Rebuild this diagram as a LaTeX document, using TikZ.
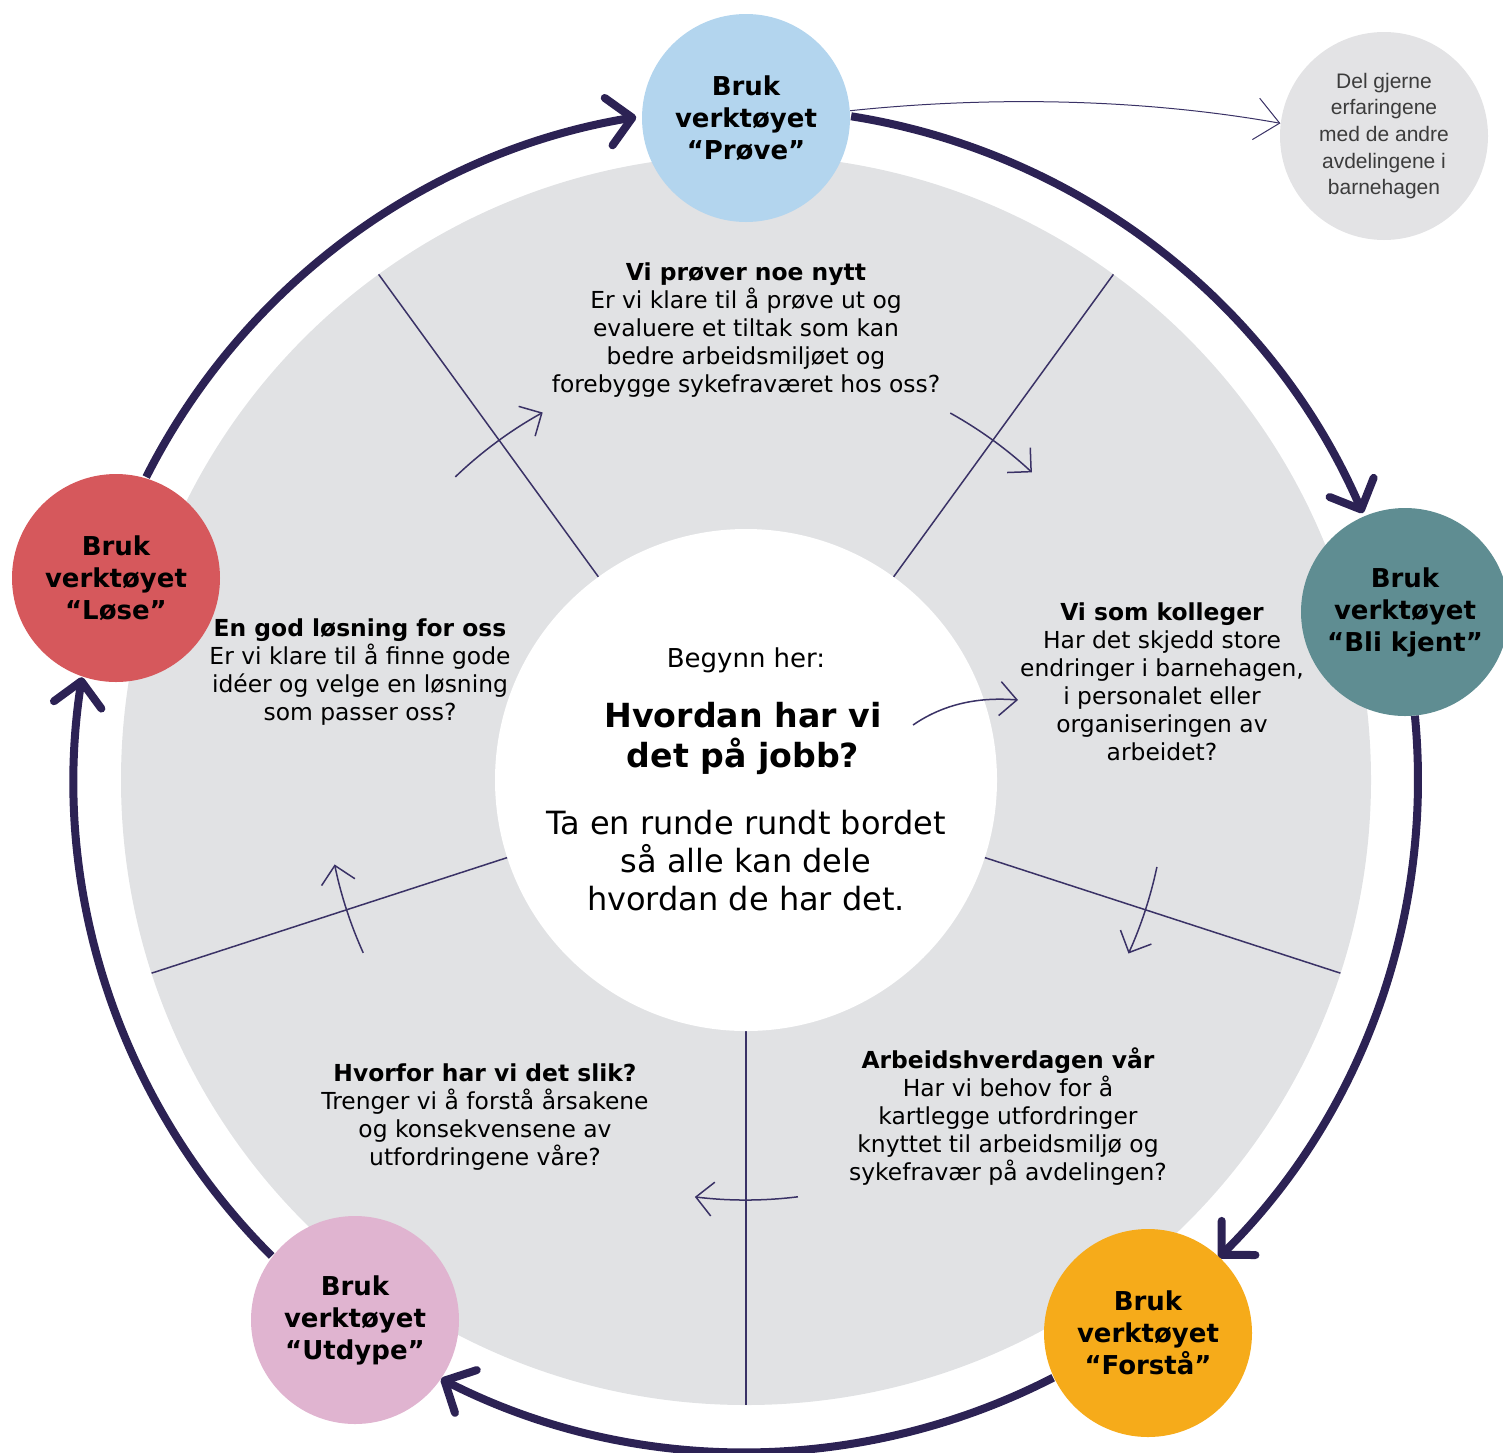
\documentclass[tikz,border=0pt]{standalone}
\usepackage{fontspec}
\setmainfont{DejaVu Sans}
\newfontfamily\helv{Liberation Sans}
\usetikzlibrary{arrows.meta}
\definecolor{ringc}{RGB}{44,34,84}
\definecolor{thinc}{RGB}{58,50,102}
\definecolor{greyc}{RGB}{225,226,228}
\definecolor{blueC}{RGB}{179,213,238}
\definecolor{tealC}{RGB}{95,141,146}
\definecolor{orangeC}{RGB}{246,171,26}
\definecolor{pinkC}{RGB}{224,180,208}
\definecolor{redC}{RGB}{214,88,92}
\definecolor{lgreyC}{RGB}{227,227,229}
\definecolor{dtext}{RGB}{60,60,60}
\begin{document}
\begin{tikzpicture}[x=0.5pt,y=-0.5pt,
  tool/.style={circle, minimum size=104pt, inner sep=0pt, align=center,
    font=\fontsize{13}{16}\selectfont\bfseries},
  body/.style={align=center, inner sep=0pt, font=\fontsize{11.7}{14}\selectfont},
  ring/.style={line width=4pt, color=ringc, -{Straight Barb[length=12pt,width=24pt,round]}},
  thinarrow/.style={line width=0.75pt, color=thinc, -{Straight Barb[length=8.5pt,width=17pt]}},
  delarrow/.style={line width=0.5pt, color=thinc, -{Straight Barb[length=12pt,width=21pt]}},
  divider/.style={line width=0.75pt, color=thinc}]
\useasboundingbox (0,0) rectangle (1503,1452);
\coordinate (c) at (746,780);
% big grey disc
\fill[greyc] (c) circle[radius=625];
% dividers
\foreach \a in {18,90,162,234,306}
  \draw[divider, shift={(746,780)}] (\a:250) -- (\a:625);
% white centre
\node[circle, fill=white, minimum size=251pt, inner sep=0pt] (center) at (c) {};
% thin arrows (arcs around centre)
\draw[thinarrow] (c) ++(226.2:420) arc[start angle=226.2, end angle=241.05, radius=420];
\draw[thinarrow] (c) ++(299.1:420) arc[start angle=299.1, end angle=312.9, radius=420];
\draw[thinarrow] (c) ++(11.95:420) arc[start angle=11.95, end angle=24.4, radius=420];
\draw[thinarrow] (c) ++(82.9:420) arc[start angle=82.9, end angle=97, radius=420];
\draw[thinarrow] (c) ++(155.7:420) arc[start angle=155.7, end angle=168.4, radius=420];
\coordinate (rs) at (913,725);
\coordinate (re) at (1018,700);
\draw[thinarrow] (rs) .. controls (945,703) and (980,697) .. (re);
% centre texts
\node[inner sep=0pt, font=\fontsize{13}{16}\selectfont] (begynn) at (746,660) {Begynn her:};
\node[align=center, inner sep=0pt, font=\fontsize{16.6}{20}\selectfont\bfseries] (hvordan) at (743,738) {Hvordan har vi\\det på jobb?};
\node[align=center, inner sep=0pt, font=\fontsize{16}{19}\selectfont] (ta) at (746,861) {Ta en runde rundt bordet\\så alle kan dele\\hvordan de har det.};
% segment texts
\node[body] (t1) at (746,330) {\textbf{Vi prøver noe nytt}\\Er vi klare til å prøve ut og\\evaluere et tiltak som kan\\bedre arbeidsmiljøet og\\forebygge sykefraværet hos oss?};
\node[body] (t2) at (1162,682) {\textbf{Vi som kolleger}\\Har det skjedd store\\endringer i barnehagen,\\i personalet eller\\organiseringen av\\arbeidet?};
\node[body] (t3) at (1008,1117) {\textbf{Arbeidshverdagen vår}\\Har vi behov for å\\kartlegge utfordringer\\knyttet til arbeidsmiljø og\\sykefravær på avdelingen?};
\node[body] (t4) at (485,1117) {\textbf{Hvorfor har vi det slik?}\\Trenger vi å forstå årsakene\\og konsekvensene av\\utfordringene våre?};
\node[body] (t5) at (360,672) {\textbf{En god løsning for oss}\\Er vi klare til å finne gode\\idéer og velge en løsning\\som passer oss?};
% ring arrows
\draw[ring] (c) ++(-81:672) arc[start angle=-81, end angle=-23.4, radius=672];
\draw[ring] (c) ++(-5.5:672) arc[start angle=-5.5, end angle=45.3, radius=672];
\draw[ring] (c) ++(62.8:672) arc[start angle=62.8, end angle=117, radius=672];
\draw[ring] (c) ++(134.9:672) arc[start angle=134.9, end angle=188.8, radius=672];
\draw[ring] (c) ++(206.8:672) arc[start angle=206.8, end angle=260.6, radius=672];
% tool circles
\node[tool, fill=blueC] (prove) at (746,118) {Bruk\\verktøyet\\“Prøve”};
\node[tool, fill=tealC] (blikjent) at (1405,612) {Bruk\\verktøyet\\“Bli kjent”};
\node[tool, fill=orangeC] (forsta) at (1148,1333) {Bruk\\verktøyet\\“Forstå”};
\node[tool, fill=pinkC] (utdype) at (355,1320) {Bruk\\verktøyet\\“Utdype”};
\node[tool, fill=redC] (lose) at (116,578) {Bruk\\verktøyet\\“Løse”};
% share circle
\node[circle, fill=lgreyC, minimum size=104pt, inner sep=0pt, align=center, text=dtext,
  font=\helv\fontsize{10.5}{13.3}\selectfont] (dels) at (1384,136) {Del gjerne\\erfaringene\\med de andre\\avdelingene i\\barnehagen};
\draw[delarrow] (prove.4) .. controls (1000,95) and (1150,100) .. (dels.173);
\end{tikzpicture}
\end{document}
